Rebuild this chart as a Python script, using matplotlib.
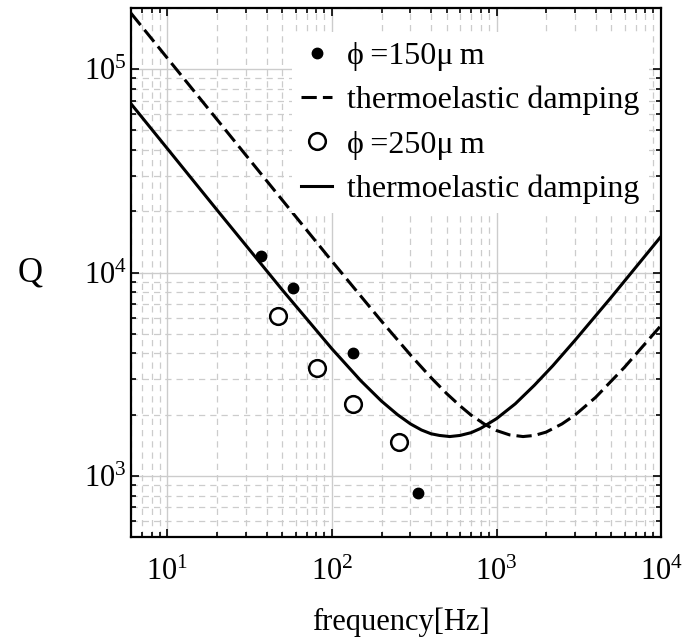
import numpy as np
import matplotlib
matplotlib.use("Agg")
import matplotlib.pyplot as plt
from matplotlib.ticker import LogLocator, FuncFormatter, NullFormatter

plt.rcParams['font.family'] = ['Liberation Serif', 'DejaVu Serif']
plt.rcParams['mathtext.fontset'] = 'custom'
plt.rcParams['mathtext.rm'] = 'Liberation Serif'
plt.rcParams['mathtext.it'] = 'Liberation Serif'

# measured points
f150 = [37, 58, 135, 335]
q150 = [12000, 8400, 4000, 820]
f250 = [47, 81, 135, 255]
q250 = [6100, 3400, 2250, 1460]

# thermoelastic damping curves
f_te150 = [6, 10, 20, 50, 100, 200, 300, 400, 500, 600, 700, 850, 1000, 1200,
           1450, 1700, 2000, 2500, 3000, 4000, 6000, 10000]
q_te150 = [188500, 113100, 56560, 22650, 11360, 5760, 3930, 3040, 2530, 2210,
           1990, 1790, 1670, 1590, 1560, 1580, 1640, 1800, 1990, 2430, 3420, 5490]
f_te250 = [6, 10, 20, 50, 100, 150, 200, 250, 300, 350, 400, 450, 520, 600,
           700, 800, 1000, 1300, 1700, 2200, 3000, 5000, 10000]
q_te250 = [67600, 40600, 20300, 8190, 4210, 2930, 2330, 2000, 1800, 1680, 1610,
           1580, 1560, 1580, 1630, 1710, 1910, 2260, 2790, 3480, 4640, 7580, 15040]

labels = ['\u03d5\u2009=150\u03bc\u2009m', 'thermoelastic damping',
          '\u03d5\u2009=250\u03bc\u2009m', 'thermoelastic damping']

fig = plt.figure(figsize=(6.83, 6.44), dpi=100)
ax = fig.add_axes([0.1918, 0.1661, 0.776, 0.8215])

ax.plot(f150, q150, 'o', color='black', markersize=7.5, label=labels[0], zorder=4)
ax.plot(f_te150, q_te150, color='black', lw=2.2, dashes=(5.0, 2.0), label=labels[1], zorder=3)
ax.plot(f250, q250, 'o', mfc='white', mec='black', mew=1.8, markersize=12, label=labels[2], zorder=4)
ax.plot(f_te250, q_te250, color='black', lw=2.2, label=labels[3], zorder=3)

ax.set_xscale('log')
ax.set_yscale('log')
ax.set_xlim(6, 1e4)
ax.set_ylim(500, 2e5)

for axis in (ax.xaxis, ax.yaxis):
    axis.set_major_locator(LogLocator(base=10, numticks=10))
    axis.set_minor_locator(LogLocator(base=10, subs=np.arange(2, 10), numticks=20))
    axis.set_major_formatter(FuncFormatter(lambda v, p: '$10^{%d}$' % round(np.log10(v))))
    axis.set_minor_formatter(NullFormatter())

ax.grid(True, which='major', color='#cccccc', lw=1.0, ls='-', zorder=0)
ax.grid(True, which='minor', color='#cccccc', lw=0.9, dashes=(5, 4), zorder=0)
ax.set_axisbelow(True)

ax.tick_params(which='both', direction='in', top=True, right=True, width=1.2)
ax.tick_params(which='major', length=6)
ax.tick_params(which='minor', length=3.5)
ax.tick_params(axis='x', labelsize=22, pad=15)
ax.tick_params(axis='y', labelsize=22, pad=3)
for s in ax.spines.values():
    s.set_linewidth(1.6)

ax.set_xlabel('frequency[Hz]', fontsize=22, va='center')
ax.xaxis.set_label_coords(0.51, -0.161)
ax.set_ylabel('Q', fontsize=25, rotation=0, va='center', ha='center')
ax.yaxis.set_label_coords(-0.19, 0.5)

leg = ax.legend(loc='upper right', bbox_to_anchor=(0.977, 0.954), fontsize=23,
                frameon=True, framealpha=1, edgecolor='none', facecolor='white',
                handlelength=0.95, handletextpad=0.47, labelspacing=0.46,
                borderaxespad=0, borderpad=0.3, fancybox=False)

fig.savefig('out.png', dpi=100)
